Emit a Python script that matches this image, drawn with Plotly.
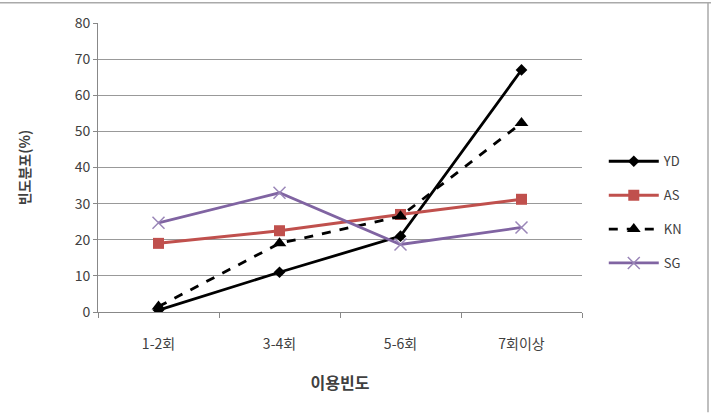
import plotly.graph_objects as go

categories = ["1-2회", "3-4회", "5-6회", "7회이상"]
yd = [0.5, 11, 21, 67]
as_ = [19, 22.5, 27, 31.2]
kn = [1.5, 19, 26.5, 52.3]
sg = [24.7, 33, 18.7, 23.4]
y_ticks = [0, 10, 20, 30, 40, 50, 60, 70, 80]

FONT = "Noto Sans CJK KR"
fig = go.Figure()
fig.add_trace(go.Scatter(x=categories, y=yd, name="YD", mode="lines+markers",
                         line=dict(color="black", width=2.8),
                         marker=dict(symbol="diamond", size=9, color="black"),
                         legendgroup="a"))
fig.add_trace(go.Scatter(x=categories, y=as_, name="AS", mode="lines+markers",
                         line=dict(color="#C0504D", width=3),
                         marker=dict(symbol="square", size=11, color="#C0504D"),
                         legendgroup="b"))
fig.add_trace(go.Scatter(x=categories, y=kn, name="KN", mode="lines+markers",
                         line=dict(color="black", width=2.8, dash="dash"),
                         marker=dict(symbol="triangle-up", size=12, color="black"),
                         legendgroup="c"))
fig.add_trace(go.Scatter(x=categories, y=sg, name="SG", mode="lines+markers",
                         line=dict(color="#8064A2", width=2.8),
                         marker=dict(symbol="x-thin", size=12, color="#8064A2",
                                     line=dict(color="#9A86B8", width=1.5)),
                         legendgroup="d"))

fig.update_layout(
    width=711, height=413,
    margin=dict(l=98, r=129, t=21, b=101),
    paper_bgcolor="white", plot_bgcolor="white",
    font=dict(family=FONT, size=12, color="#404040"),
    showlegend=True,
    legend=dict(x=1.045, y=0.345, xanchor="left", yanchor="middle",
                traceorder="grouped", tracegroupgap=14, itemwidth=50,
                font=dict(family=FONT, size=13, color="#404040"),
                bgcolor="rgba(0,0,0,0)"),
    xaxis=dict(type="category", range=[-0.5, 3.5], tickson="boundaries", ticks="outside", ticklen=5,
               tickcolor="#888", showgrid=False, showline=True, linecolor="#888",
               ticklabelstandoff=19,
               tickfont=dict(size=14, color="#404040"),
               title=dict(text="<b>이용빈도</b>", font=dict(size=16, color="#404040"), standoff=26)),
    yaxis=dict(range=[0, 80], tickvals=y_ticks, ticks="outside", ticklen=4, tickcolor="#888",
               showgrid=True, gridcolor="#999", gridwidth=1, showline=True, linecolor="#888",
               zeroline=False, tickfont=dict(size=14, color="#404040"),
               title=dict(text="<b>빈도분포(%)</b>", font=dict(size=14, color="#404040"), standoff=40)),
    shapes=[
        dict(type="line", xref="paper", yref="paper",
             x0=-98/484, x1=(711-98)/484, y0=(291+20.5)/291, y1=(291+20.5)/291,
             line=dict(color="#aaa", width=1.5)),
        dict(type="line", xref="paper", yref="paper",
             x0=(708-98)/484, x1=(708-98)/484, y0=-101/291, y1=(291+21)/291,
             line=dict(color="#aaa", width=1.5)),
    ],
)
fig.write_html("out.html")
